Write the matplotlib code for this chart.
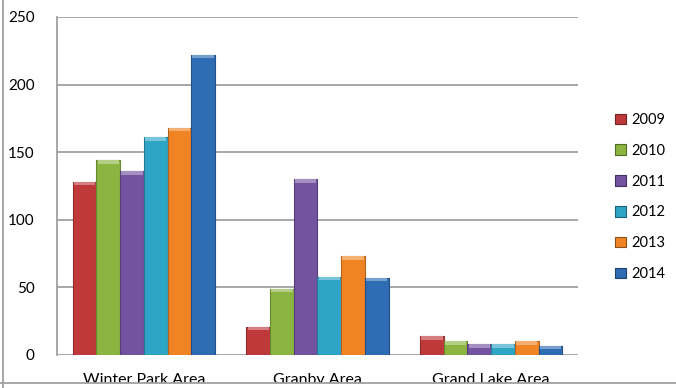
import matplotlib.pyplot as plt
import matplotlib.colors as mcolors
from matplotlib.patches import Rectangle
from matplotlib.lines import Line2D
import numpy as np

plt.rcParams["font.family"] = ["Lato", "DejaVu Sans"]

categories = ["Winter Park Area", "Granby Area", "Grand Lake Area"]
years = ["2009", "2010", "2011", "2012", "2013", "2014"]
values_2009 = [128, 21, 14]
values_2010 = [144, 49, 10]
values_2011 = [136, 130, 8]
values_2012 = [161, 58, 8]
values_2013 = [168, 73, 10]
values_2014 = [222, 57, 7]
series = [values_2009, values_2010, values_2011, values_2012, values_2013, values_2014]
colors = ["#C0393A", "#8BB440", "#7352A0", "#2FA5C6", "#F08424", "#2E6CB4"]


def shade(c, f):
    r, g, b = mcolors.to_rgb(c)
    if f < 1:
        return (r * f, g * f, b * f)
    return (r + (1 - r) * (f - 1), g + (1 - g) * (f - 1), b + (1 - b) * (f - 1))


fig = plt.figure(figsize=(6.76, 3.88), dpi=100)
ax = fig.add_axes([57 / 676, 33 / 388, 521 / 676, 338 / 388])

x = np.arange(len(categories))
w = 0.1363
for i, (vals, col) in enumerate(zip(series, colors)):
    pos = x + (i - 2.5) * w
    ax.bar(pos, vals, width=w, color=col, edgecolor=shade(col, 0.75),
           linewidth=0.8, zorder=3)
    # lighter cap on the top of each bar (bevel look)
    cap = 2.6
    ax.bar(pos, [cap] * len(vals), bottom=np.array(vals) - cap, width=w * 0.9,
           color=shade(col, 1.35), linewidth=0, zorder=4)

ax.set_xlim(-0.5, 2.5)
ax.set_ylim(0, 250)
ax.set_yticks([0, 50, 100, 150, 200, 250])
ax.set_xticks(x)
ax.set_xticklabels(categories)
ax.yaxis.grid(True, color="#A0A0A0", linewidth=1.3, zorder=0)
ax.tick_params(axis="both", length=0, labelsize=11, colors="#000000")
ax.tick_params(axis="y", pad=16)
ax.tick_params(axis="x", pad=13, labelsize=11.5)
for s in ["top", "right", "bottom"]:
    ax.spines[s].set_visible(False)
ax.spines["left"].set_color("#A0A0A0")
ax.spines["left"].set_linewidth(1.3)

handles = [Rectangle((0, 0), 1, 1, facecolor=c, edgecolor=shade(c, 0.6), linewidth=0.8)
           for c in colors]
fig.legend(handles, years, loc="center left",
           bbox_to_anchor=(609 / 676, (388 - 197) / 388), frameon=False,
           fontsize=10.5, handlelength=0.75, handleheight=0.75,
           handletextpad=0.35, labelspacing=1.15, borderaxespad=0)

# clipped bottom edge and outer frame line of the original chart
fig.patches.append(Rectangle((0, 0), 1, 5 / 388, transform=fig.transFigure,
                             facecolor="white", edgecolor="none", zorder=10))
fig.lines.append(Line2D([0, 1], [5.5 / 388, 5.5 / 388], transform=fig.transFigure,
                        color="#A0A0A0", linewidth=1.3, zorder=11))
fig.lines.append(Line2D([2.5 / 676, 2.5 / 676], [0, 1], transform=fig.transFigure,
                        color="#A0A0A0", linewidth=1.3, zorder=11))

fig.savefig("out.png", dpi=100)
